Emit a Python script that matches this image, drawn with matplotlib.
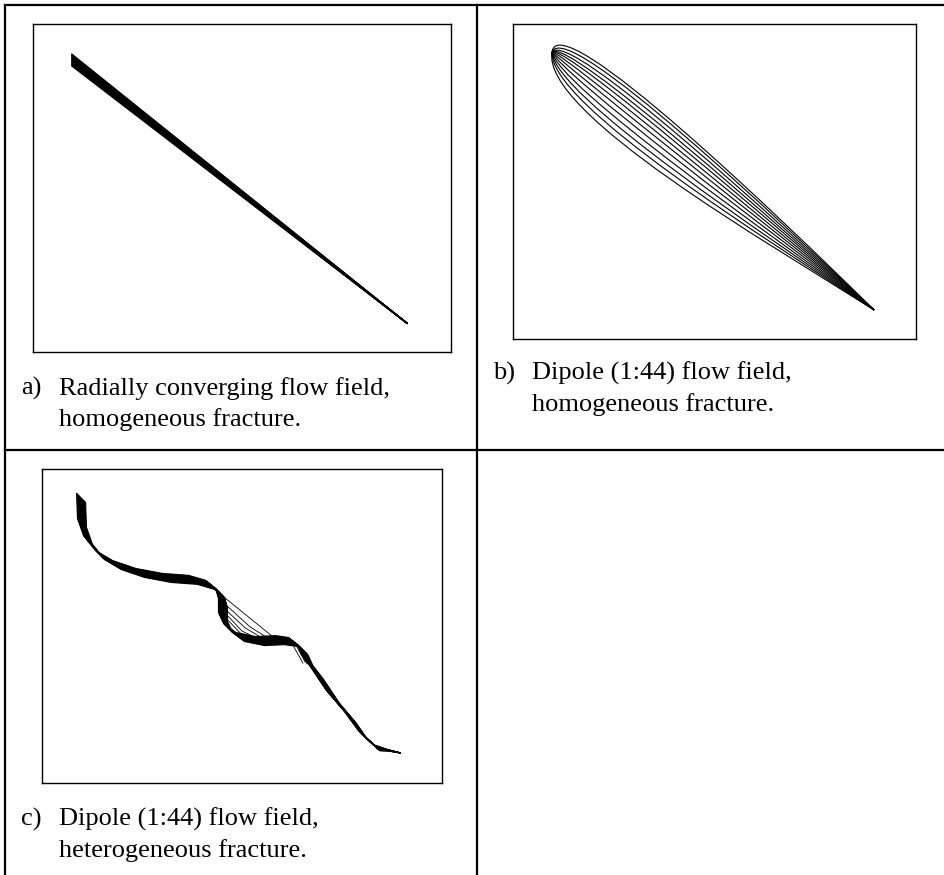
import matplotlib.pyplot as plt
from matplotlib.path import Path
from matplotlib.patches import PathPatch
from matplotlib.lines import Line2D
import numpy as np

ANCHO, ALTO = 945, 875
DPI = 100

# Extension del plano de fractura (igual en los tres paneles)
XMAX, YMAX = 12.8, 10.0
PX = XMAX / 400.0  # tamaño aproximado de un pixel en unidades del plano

# a) Campo radial convergente: las lineas salen de un tramo corto y llegan al pozo
a_x_inicio = 1.19
a_y_inicio = [8.72, 8.75, 8.78, 8.81, 8.84, 8.87, 8.90, 8.93,
              8.96, 8.99, 9.02, 9.05, 9.08]
a_pozo = (11.45, 0.88)

# b) Dipolo (1:44), fractura homogenea: inyeccion, extraccion y forma de cada linea
b_inyeccion = (1.24, 9.11)
b_extraccion = (11.47, 0.92)
b_angulo_salida = [82, 68, 54, 40, 25, 5, -50, -70, -80, -88, -94, -100]
b_alcance_salida = [1.55, 1.2, 0.92, 0.7, 0.52, 0.3, 0.35, 0.72, 1.08, 1.38, 1.65, 1.95]
b_angulo_llegada = [-44.5, -43.4, -42.3, -41.2, -40.1, -39.0, -37.9, -36.8,
                    -35.7, -34.6, -33.5, -32.4]
b_alcance_llegada = [4.0] * 12

# c) Dipolo (1:44), fractura heterogenea: eje del haz de lineas
c_x = [1.25, 1.28, 1.47, 1.86, 2.40, 3.14, 4.00, 4.83, 5.38, 5.70, 5.79,
       5.79, 5.95, 6.34, 6.98, 7.62, 8.03, 8.35, 8.48, 8.80, 9.31, 9.86,
       10.27, 10.72, 11.04, 11.46]
c_y = [9.08, 8.28, 7.74, 7.26, 6.94, 6.69, 6.53, 6.47, 6.31, 6.05, 5.73,
       5.29, 4.94, 4.65, 4.52, 4.55, 4.49, 4.24, 3.92, 3.50, 2.74, 2.10,
       1.53, 1.12, 1.05, 0.96]
# semiancho del haz en cada vertice (pixeles)
c_semiancho = [4.5, 4.5, 4.5, 4.5, 4.5, 4.5, 4.5, 4.5, 4.5, 4.5, 4.5,
               4.5, 4.5, 4.5, 4.5, 4.5, 4.5, 5.0, 6.0, 7.0, 7.0, 6.0,
               5.0, 3.0, 1.0, 0.0]
c_carriles = [-1.0, -0.875, -0.75, -0.625, -0.5, -0.375, -0.25, -0.125, 0.0,
              0.125, 0.25, 0.375, 0.5, 0.625, 0.75, 0.875, 1.0]
# lineas que se separan del haz en los dos codos
c_atajos = [
    ([5.86, 7.36], [5.89, 4.68]),
    ([5.82, 6.66, 7.17], [5.73, 4.97, 4.65]),
    ([5.82, 6.50, 7.04], [5.57, 4.94, 4.62]),
    ([5.86, 6.40, 6.91], [5.41, 4.84, 4.59]),
    ([5.89, 6.34, 6.78], [5.25, 4.78, 4.55]),
    ([8.13, 8.42], [4.39, 3.85]),
    ([8.19, 8.48], [4.36, 3.79]),
    ([8.06, 8.35], [4.33, 3.82]),
]

LEYENDAS = {
    "a": ["Radially converging flow field,", "homogeneous fracture."],
    "b": ["Dipole (1:44) flow field,", "homogeneous fracture."],
    "c": ["Dipole (1:44) flow field,", "heterogeneous fracture."],
}


def caja(fig, izq, arriba, der, abajo):
    ax = fig.add_axes([izq / ANCHO, 1 - abajo / ALTO,
                       (der - izq) / ANCHO, (abajo - arriba) / ALTO])
    ax.set_xlim(0, XMAX)
    ax.set_ylim(0, YMAX)
    ax.set_xticks([])
    ax.set_yticks([])
    for lado in ax.spines.values():
        lado.set_linewidth(1.0)
        lado.set_color("black")
    return ax


def leyenda(fig, x_letra, x_texto, y_base, letra, lineas):
    estilo = dict(family="Liberation Serif", fontsize=19, va="baseline")
    fig.text(x_letra / ANCHO, 1 - y_base / ALTO, letra + ")", **estilo)
    for i, linea in enumerate(lineas):
        fig.text(x_texto / ANCHO, 1 - (y_base + 31 * i) / ALTO, linea, **estilo)


def linea_fig(fig, x0, y0, x1, y1):
    fig.add_artist(Line2D([x0 / ANCHO, x1 / ANCHO], [1 - y0 / ALTO, 1 - y1 / ALTO],
                          color="black", linewidth=1.6,
                          transform=fig.transFigure))


def main():
    fig = plt.figure(figsize=(ANCHO / DPI, ALTO / DPI), dpi=DPI)

    # Rejilla de la tabla
    linea_fig(fig, 5, 5, ANCHO, 5)
    linea_fig(fig, 5, 5, 5, ALTO)
    linea_fig(fig, 477, 5, 477, ALTO)
    linea_fig(fig, 5, 450, ANCHO, 450)

    # a)
    ax_a = caja(fig, 33, 24, 451, 352)
    for y0 in a_y_inicio:
        ax_a.plot([a_x_inicio, a_pozo[0]], [y0, a_pozo[1]],
                  color="black", linewidth=1.0)

    # b)
    ax_b = caja(fig, 513, 24, 916, 339)
    xa, ya = b_inyeccion
    xb, yb = b_extraccion
    for ang_s, r_s, ang_l, r_l in zip(b_angulo_salida, b_alcance_salida,
                                      b_angulo_llegada, b_alcance_llegada):
        c1 = (xa + r_s * np.cos(np.radians(ang_s)), ya + r_s * np.sin(np.radians(ang_s)))
        c2 = (xb - r_l * np.cos(np.radians(ang_l)), yb - r_l * np.sin(np.radians(ang_l)))
        camino = Path([(xa, ya), c1, c2, (xb, yb)],
                      [Path.MOVETO, Path.CURVE4, Path.CURVE4, Path.CURVE4])
        ax_b.add_patch(PathPatch(camino, fill=False, edgecolor="black", linewidth=0.8))

    # c)
    ax_c = caja(fig, 42, 469, 442, 783)
    cx = np.array(c_x)
    cy = np.array(c_y)
    semi = np.array(c_semiancho) * PX
    for carril in c_carriles:
        ax_c.plot(cx + carril * semi, cy - carril * semi,
                  color="black", linewidth=0.8)
    for xs, ys in c_atajos:
        ax_c.plot(xs, ys, color="black", linewidth=0.6)

    leyenda(fig, 21, 59, 395, "a", LEYENDAS["a"])
    leyenda(fig, 493, 532, 380, "b", LEYENDAS["b"])
    leyenda(fig, 21, 59, 826, "c", LEYENDAS["c"])

    fig.savefig("out.png", dpi=DPI)


if __name__ == "__main__":
    main()
